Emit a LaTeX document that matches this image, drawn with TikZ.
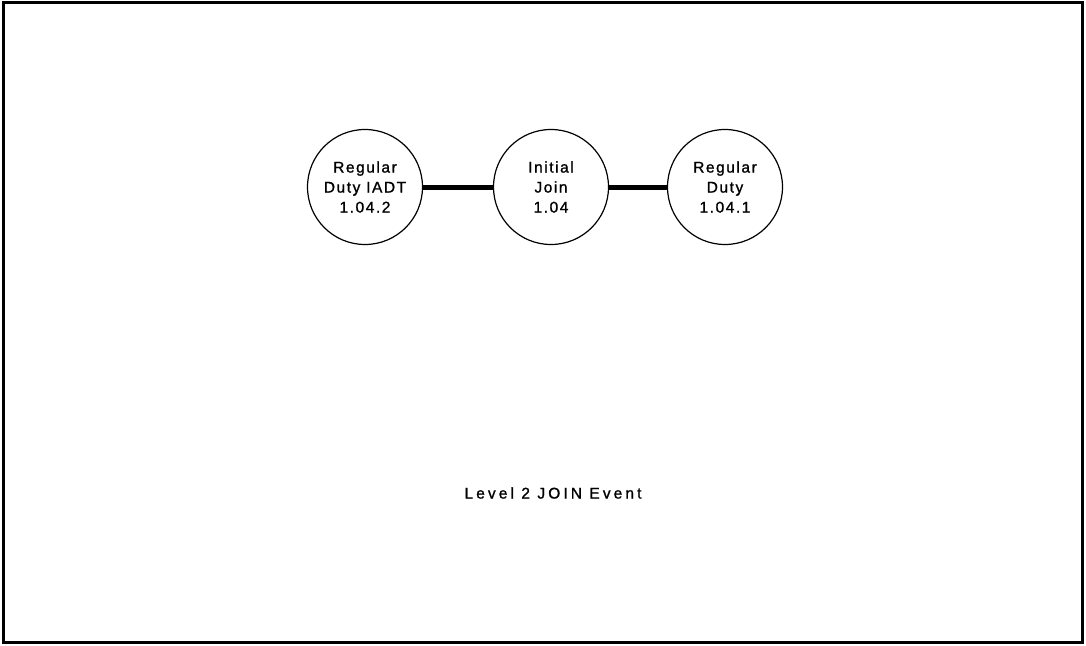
\documentclass[tikz,border=0pt]{standalone}
\usepackage{fontspec}
\setmainfont{Liberation Sans}
\newfontfamily\circfont{Liberation Sans}[LetterSpace=10,FakeBold=1.2]
\newfontfamily\capfont{Liberation Sans}[LetterSpace=20,FakeBold=1.2]
\begin{document}
\begin{tikzpicture}[x=1pt,y=-1pt,
  ev/.style={circle,draw,line width=1.2pt,minimum size=115pt,inner sep=0pt,align=center,font=\circfont\fontsize{15.5}{20}\selectfont},
  link/.style={line width=5pt}]
\useasboundingbox (0,0) rectangle (1086,645);
\draw[line width=3pt] (3.5,2.5) rectangle (1082.5,642.5);
\node[ev] (a) at (365,187) {Regular\\Duty IADT\\1.04.2};
\node[ev] (b) at (551,187) {Initial\\Join\\1.04};
\node[ev] (c) at (725,187) {Regular\\Duty\\1.04.1};
\draw[link] (a) -- (b);
\draw[link] (b) -- (c);
\node[font=\capfont\fontsize{15.5}{18}\selectfont] (t) at (553,493) {Level 2 JOIN Event};
\end{tikzpicture}
\end{document}
